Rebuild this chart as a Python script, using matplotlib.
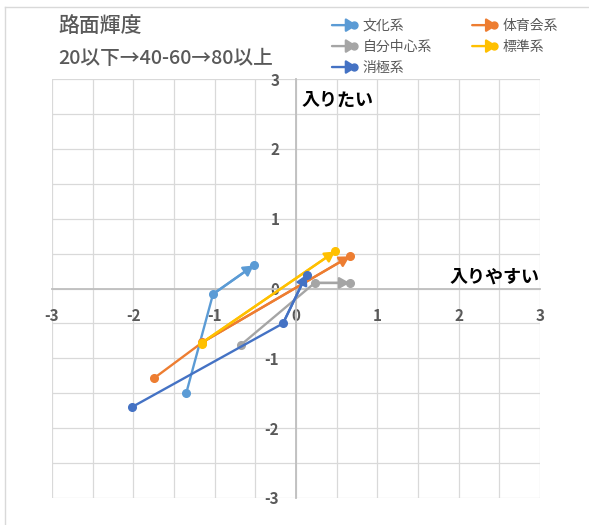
import matplotlib
matplotlib.use("Agg")
import matplotlib.pyplot as plt
from matplotlib.lines import Line2D
from matplotlib.patches import FancyArrowPatch
from matplotlib.legend_handler import HandlerBase
from matplotlib.ticker import MultipleLocator
from matplotlib.font_manager import FontProperties

plt.rcParams['font.family'] = ['Noto Sans CJK JP', 'DejaVu Sans']
plt.rcParams['axes.unicode_minus'] = False

# Road-surface luminance steps: 20以下 -> 40-60 -> 80以上
stages = ['20以下', '40-60', '80以上']

series_names = ['文化系', '体育会系', '自分中心系', '標準系', '消極系']
series_colors = ['#5b9bd5', '#ed7d31', '#a5a5a5', '#ffc000', '#4472c4']

bunka_x = [-1.35, -1.02, -0.52]
bunka_y = [-1.50, -0.08, 0.33]
taiiku_x = [-1.74, -1.15, 0.66]
taiiku_y = [-1.28, -0.77, 0.46]
jibun_x = [-0.68, 0.23, 0.66]
jibun_y = [-0.81, 0.08, 0.08]
hyojun_x = [-1.16, -1.16, 0.48]
hyojun_y = [-0.79, -0.78, 0.53]
shokyoku_x = [-2.02, -0.16, 0.13]
shokyoku_y = [-1.70, -0.50, 0.20]

xs = [bunka_x, taiiku_x, jibun_x, hyojun_x, shokyoku_x]
ys = [bunka_y, taiiku_y, jibun_y, hyojun_y, shokyoku_y]

tick_values = [-3, -2, -1, 0, 1, 2, 3]
tick_labels = ['-3', '-2', '-1', '0', '1', '2', '3']

W, H = 589, 525
fig = plt.figure(figsize=(W / 100, H / 100), dpi=100)
fig.patch.set_facecolor('white')

# chart-area border (top and left edges)
fig.add_artist(Line2D([5 / W, 1], [1 - 7 / H, 1 - 7 / H], color='#d9d9d9', lw=1))
fig.add_artist(Line2D([5 / W, 5 / W], [0, 1 - 7 / H], color='#d9d9d9', lw=1))

ax = fig.add_axes([52 / W, 27 / H, 488 / W, 419 / H])
ax.set_xlim(-3, 3)
ax.set_ylim(-3, 3)

ax.xaxis.set_minor_locator(MultipleLocator(0.5))
ax.yaxis.set_minor_locator(MultipleLocator(0.5))
ax.set_xticks(tick_values)
ax.set_xticklabels(tick_labels)
ax.set_yticks(tick_values)
ax.set_yticklabels(tick_labels)
ax.grid(True, which='both', color='#d9d9d9', lw=0.9, zorder=0)
ax.set_axisbelow(True)

for s in ['top', 'right']:
    ax.spines[s].set_visible(False)
for s in ['left', 'bottom']:
    ax.spines[s].set_position(('data', 0))
    ax.spines[s].set_color('#bfbfbf')
    ax.spines[s].set_linewidth(1.3)

ax.tick_params(which='both', length=0)
ax.tick_params(axis='x', pad=14, labelcolor='#595959')
ax.tick_params(axis='y', pad=12, labelcolor='#595959')

for name, c, x, y in zip(series_names, series_colors, xs, ys):
    ax.plot(x, y, color=c, lw=1.7, marker='o', markersize=5.5,
            markeredgecolor=c, markerfacecolor=c, zorder=3, label=name)
    ax.annotate('', xy=(x[-1], y[-1]), xytext=(x[-2], y[-2]),
                arrowprops=dict(arrowstyle='-|>,head_length=0.8,head_width=0.45',
                                color=c, lw=1.7, shrinkA=0, shrinkB=0,
                                mutation_scale=7.5),
                zorder=3)

ax.text(0.07, 2.70, '入りたい', fontsize=13, fontweight='bold', color='black',
        ha='left', va='center')
ax.text(2.99, 0.165, '入りやすい', fontsize=13, fontweight='bold', color='black',
        ha='right', va='center')

fig.text(58 / W, 1 - 26 / H, '路面輝度', fontsize=15, color='#595959',
         fontweight='medium', ha='left', va='center')
fig.text(58 / W, 1 - 58 / H, '20以下→40-60→80以上', fontsize=14.2, color='#595959',
         fontweight='medium', ha='left', va='center')


class ArrowHandle(HandlerBase):
    def create_artists(self, legend, orig_handle, xdescent, ydescent,
                       width, height, fontsize, trans):
        c = orig_handle.get_color()
        yc = height / 2 - ydescent
        arr = FancyArrowPatch((-xdescent, yc), (width - xdescent, yc),
                              arrowstyle='-|>,head_length=0.8,head_width=0.5',
                              mutation_scale=8, color=c, lw=1.7,
                              shrinkA=0, shrinkB=0, transform=trans)
        dot = Line2D([width - xdescent - 2], [yc], marker='o', markersize=5,
                     color=c, transform=trans)
        return [arr, dot]


handles = ax.get_lines()
order = [0, 2, 4, 1, 3]
leg = fig.legend([handles[i] for i in order], [series_names[i] for i in order],
                 handler_map={Line2D: ArrowHandle()},
                 loc='upper left', bbox_to_anchor=(332 / W, 1 - 19 / H),
                 ncol=2, frameon=False, fontsize=10, handlelength=1.8,
                 handletextpad=0.4, columnspacing=2.9, labelspacing=0.5,
                 borderpad=0, borderaxespad=0)
for t in leg.get_texts():
    t.set_color('#595959')

tick_fp = FontProperties(family='Noto Sans CJK JP', weight='bold', size=11)
for lab in ax.get_xticklabels() + ax.get_yticklabels():
    lab.set_fontproperties(tick_fp)

fig.savefig('out.png', dpi=100)
